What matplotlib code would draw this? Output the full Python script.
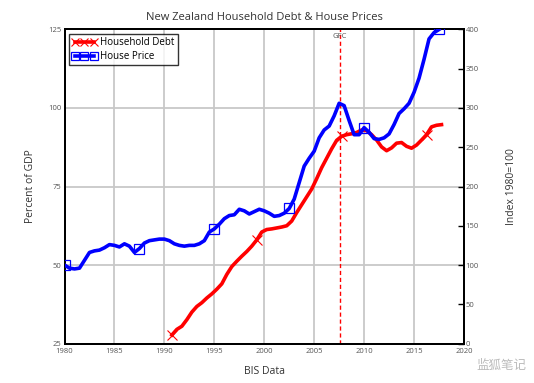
import matplotlib
matplotlib.use("Agg")
import matplotlib.pyplot as plt
import numpy as np

# ---- data ----
house_years = [1980 + 0.5 * i for i in range(76)]
house_price = [100, 96, 95, 96, 106, 116, 118, 119, 122, 126,
               125, 123, 127, 124, 116, 121, 128, 131, 132, 133,
               133, 131, 127, 125, 124, 125, 125, 127, 131, 142,
               146, 152, 159, 163, 164, 171, 169, 165, 168, 171,
               169, 166, 162, 163, 166, 172, 184, 205, 226, 236,
               245, 262, 272, 277, 290, 306, 303, 284, 266, 266,
               275, 269, 261, 260, 262, 267, 279, 293, 299, 306,
               320, 338, 362, 388, 396, 400]

debt_years = [1990.75 + 0.5 * i for i in range(55)]
household_debt = [27.7, 29.5, 30.5, 32.6, 35.0, 36.8, 38.0, 39.5, 40.8, 42.3,
                  44.0, 47.0, 49.5, 51.2, 52.8, 54.3, 56.0, 58.0, 60.5, 61.3,
                  61.5, 61.8, 62.1, 62.5, 64.0, 66.7, 69.2, 71.7, 74.2, 77.5,
                  81.0, 84.0, 87.0, 89.7, 91.0, 91.5, 91.8, 92.2, 93.0, 92.8,
                  91.5, 89.8, 87.6, 86.4, 87.3, 88.8, 89.0, 87.8, 87.2, 88.2,
                  89.8, 91.5, 94.0, 94.5, 94.7]

gfc_year = 2007.6
x_ticks = [1980, 1985, 1990, 1995, 2000, 2005, 2010, 2015, 2020]
left_ticks = [25, 50, 75, 100, 125]
right_ticks = [0, 50, 100, 150, 200, 250, 300, 350, 400]

plt.rcParams['font.family'] = ['Open Sans', 'DejaVu Sans']

fig = plt.figure(figsize=(5.34, 3.83), dpi=100)
ax = fig.add_axes([0.1208, 0.1031, 0.7481, 0.8199])
ax2 = ax.twinx()

ax.set_xlim(1980, 2020)
ax.set_ylim(25, 125)
ax2.set_ylim(0, 400)

# grid
for x in x_ticks[1:-1]:
    ax.axvline(x, color='#c8c8c8', lw=1.3, zorder=0)
for y in [50, 75, 100]:
    ax.axhline(y, color='#c8c8c8', lw=1.3, zorder=0)

l1, = ax.plot(debt_years, household_debt, color='red', lw=2.6, marker='x',
              markersize=7, markeredgewidth=0.8, markevery=17,
              label='Household Debt', zorder=3)
ax.axvline(gfc_year, color='red', lw=1.0, ls=(0, (3, 2)), zorder=2)
ax.text(gfc_year, 124, 'GFC', ha='center', va='top', fontsize=5.5, color='#555555')

l2, = ax2.plot(house_years, house_price, color='blue', lw=2.6, marker='s',
               markersize=7, markerfacecolor='none', markeredgewidth=0.9,
               markevery=15, label='House Price', zorder=3)

ax.set_xticks(x_ticks)
ax.set_xticklabels([str(t) for t in x_ticks])
ax.set_yticks(left_ticks)
ax2.set_yticks(right_ticks)

for a in (ax, ax2):
    for s in a.spines.values():
        s.set_linewidth(1.4)
        s.set_color('black')

ax.tick_params(axis='x', length=0, labelsize=5.5, labelcolor='#555555', pad=3)
ax.tick_params(axis='y', length=0, labelsize=5.5, labelcolor='#555555', pad=2)
ax2.tick_params(axis='y', direction='in', length=4, width=1, labelsize=5.5,
                labelcolor='#555555', pad=1)

ax.set_ylabel('Percent of GDP', fontsize=7.5, color='#333333', labelpad=9)
ax2.set_ylabel('Index 1980=100', fontsize=7.5, color='#333333', labelpad=20)
ax.set_xlabel('BIS Data', fontsize=7.5, color='#333333', labelpad=8)
ax.set_title('New Zealand Household Debt & House Prices', fontsize=8,
             color='#333333', pad=7)

leg = ax2.legend([l1, l2], ['Household Debt', 'House Price'], loc='upper left',
                 fontsize=7, frameon=True, fancybox=False, numpoints=3,
                 markerscale=0.8,
                 handlelength=2.5, borderaxespad=0.5, borderpad=0.3,
                 labelspacing=0.3, handletextpad=0.4)
leg.get_frame().set_edgecolor('black')
leg.get_frame().set_linewidth(1.0)

fig.text(0.985, 0.045, '监狐笔记', ha='right', va='center', fontsize=9,
         color='#bbbbbb', family=['Noto Sans CJK SC', 'DejaVu Sans'])

fig.savefig('out.png', dpi=100)
